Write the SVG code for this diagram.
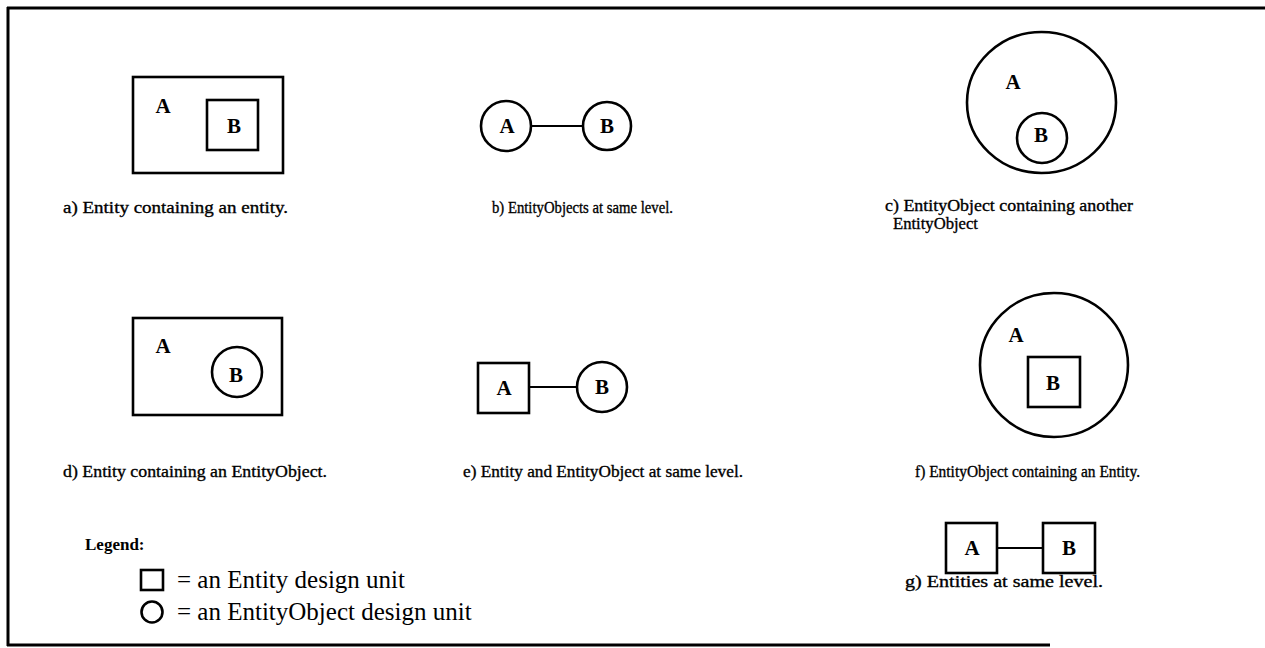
<svg xmlns="http://www.w3.org/2000/svg" width="1265" height="648" viewBox="0 0 1265 648">
  <style>
    .frame { fill: none; stroke: #000; stroke-width: 3; }
    .shape { fill: none; stroke: #000; stroke-width: 2.6; }
    .edge { fill: none; stroke: #000; stroke-width: 2; }
    .lbl { font-family: "Liberation Serif", "Times New Roman", serif; font-size: 21px; font-weight: bold; text-anchor: middle; fill: #000; }
    .cap { font-family: "Liberation Serif", "Times New Roman", serif; font-size: 17px; fill: #000; stroke: #000; stroke-width: 0.35; }
    .leg { font-family: "Liberation Serif", "Times New Roman", serif; font-size: 25px; fill: #000; }
    .legh { font-family: "Liberation Serif", "Times New Roman", serif; font-size: 17px; font-weight: bold; fill: #000; }
  </style>

  <rect width="1265" height="648" fill="#fff"/>

  <!-- outer frame: top, left and bottom rules only -->
  <g id="frame">
    <path class="frame" d="M7,8 H1265 M8,7 V646 M7,645 H1050"/>
  </g>

  <!-- a) Entity containing an entity -->
  <g id="panel-a">
    <rect class="shape" x="133" y="77" width="150" height="96"/>
    <rect class="shape" x="207" y="100" width="51" height="50"/>
    <text class="lbl" x="163" y="113">A</text>
    <text class="lbl" x="234" y="133">B</text>
    <text class="cap" x="63" y="213" textLength="225" lengthAdjust="spacingAndGlyphs">a) Entity containing an entity.</text>
  </g>

  <!-- b) EntityObjects at same level -->
  <g id="panel-b">
    <circle class="shape" cx="506" cy="126" r="25"/>
    <circle class="shape" cx="607" cy="126" r="24"/>
    <text class="lbl" x="507" y="133">A</text>
    <text class="lbl" x="607" y="133">B</text>
    <text class="cap" x="492" y="213" textLength="181" lengthAdjust="spacingAndGlyphs">b) EntityObjects at same level.</text>
  </g>

  <!-- c) EntityObject containing another EntityObject -->
  <g id="panel-c">
    <ellipse class="shape" cx="1041.5" cy="102.5" rx="74.5" ry="70.5"/>
    <circle class="shape" cx="1042" cy="138" r="25"/>
    <text class="lbl" x="1013" y="89">A</text>
    <text class="lbl" x="1041" y="142">B</text>
    <text class="cap" x="885" y="211" textLength="248" lengthAdjust="spacingAndGlyphs">c) EntityObject containing another</text>
    <text class="cap" x="893" y="229" textLength="85" lengthAdjust="spacingAndGlyphs">EntityObject</text>
  </g>

  <!-- d) Entity containing an EntityObject -->
  <g id="panel-d">
    <rect class="shape" x="133" y="318" width="149" height="97"/>
    <circle class="shape" cx="237" cy="372" r="25"/>
    <text class="lbl" x="163" y="353">A</text>
    <text class="lbl" x="236" y="382">B</text>
    <text class="cap" x="63" y="477" textLength="264" lengthAdjust="spacingAndGlyphs">d) Entity containing an EntityObject.</text>
  </g>

  <!-- e) Entity and EntityObject at same level -->
  <g id="panel-e">
    <rect class="shape" x="478" y="363" width="51" height="50"/>
    <circle class="shape" cx="602" cy="387" r="25"/>
    <text class="lbl" x="504" y="395">A</text>
    <text class="lbl" x="602" y="394">B</text>
    <text class="cap" x="463" y="477" textLength="280" lengthAdjust="spacingAndGlyphs">e) Entity and EntityObject at same level.</text>
  </g>

  <!-- f) EntityObject containing an Entity -->
  <g id="panel-f">
    <ellipse class="shape" cx="1054" cy="365" rx="74" ry="72"/>
    <rect class="shape" x="1028" y="357" width="52" height="50"/>
    <text class="lbl" x="1016" y="342">A</text>
    <text class="lbl" x="1053" y="390">B</text>
    <text class="cap" x="915" y="477" textLength="225" lengthAdjust="spacingAndGlyphs">f) EntityObject containing an Entity.</text>
  </g>

  <!-- g) Entities at same level -->
  <g id="panel-g">
    <rect class="shape" x="946" y="523" width="51" height="50"/>
    <rect class="shape" x="1043" y="523" width="52" height="50"/>
    <text class="lbl" x="972" y="555">A</text>
    <text class="lbl" x="1069" y="555">B</text>
    <text class="cap" x="905" y="587" textLength="198" lengthAdjust="spacingAndGlyphs">g) Entities at same level.</text>
  </g>

  <!-- connectors between sibling units -->
  <g id="connectors">
    <line class="edge" x1="531" y1="126" x2="583" y2="126"/>
    <line class="edge" x1="529" y1="387" x2="577" y2="387"/>
    <line class="edge" x1="997" y1="548" x2="1043" y2="548"/>
  </g>

  <!-- legend -->
  <g id="legend">
    <text class="legh" x="85" y="550">Legend:</text>
    <rect class="shape" x="141" y="570" width="22" height="20"/>
    <text class="leg" x="177" y="588">= an Entity design unit</text>
    <circle class="shape" cx="152" cy="612" r="10.5"/>
    <text class="leg" x="177" y="620">= an EntityObject design unit</text>
  </g>
</svg>
